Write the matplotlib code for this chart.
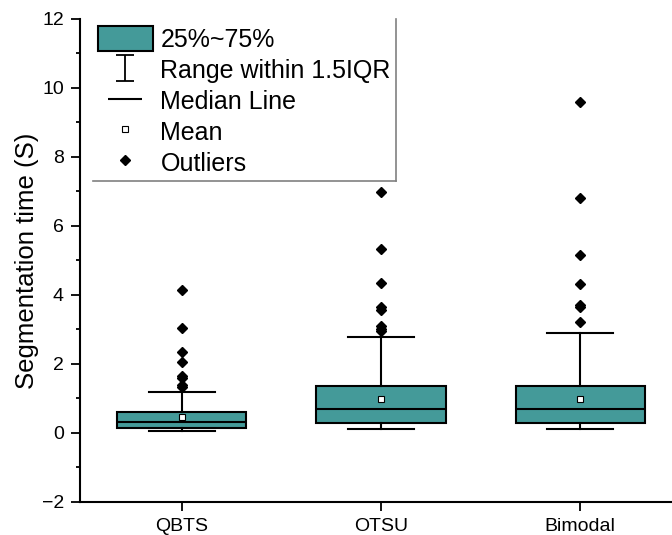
import numpy as np
import matplotlib
matplotlib.use('Agg')
import matplotlib.pyplot as plt
from matplotlib.lines import Line2D
from matplotlib.patches import Patch
from matplotlib.path import Path

plt.rcParams['font.family'] = ['Liberation Sans', 'DejaVu Sans']

# data
methods = ['QBTS', 'OTSU', 'Bimodal']
q1 = [0.14, 0.30, 0.30]
q3 = [0.62, 1.36, 1.36]
med = [0.32, 0.69, 0.69]
mean = [0.45, 0.99, 0.99]
whislo = [0.07, 0.12, 0.12]
whishi = [1.20, 2.79, 2.91]
outliers = [
    [4.14, 3.03, 2.36, 2.07, 1.65, 1.59, 1.39, 1.34],
    [6.99, 5.32, 4.34, 3.66, 3.56, 3.10, 3.00, 2.95],
    [9.60, 6.82, 5.17, 4.32, 3.70, 3.64, 3.23],
]

teal = '#449a99'

stats = []
for i, name in enumerate(methods):
    stats.append(dict(label=name, q1=q1[i], q3=q3[i], med=med[i], mean=mean[i],
                      whislo=whislo[i], whishi=whishi[i], fliers=outliers[i]))

fig = plt.figure(figsize=(6.72, 5.35), dpi=100)
ax = fig.add_axes([0.119, 0.0617, 0.881, 0.9028])

ax.bxp(stats, positions=[1, 2, 3], widths=0.65, capwidths=0.33,
       patch_artist=True, showmeans=True,
       boxprops=dict(facecolor=teal, edgecolor='black', linewidth=1.5),
       medianprops=dict(color='black', linewidth=1.5),
       whiskerprops=dict(color='black', linewidth=1.5),
       capprops=dict(color='black', linewidth=1.5),
       meanprops=dict(marker='s', markerfacecolor='white', markeredgecolor='black',
                      markersize=4.5, markeredgewidth=0.8),
       flierprops=dict(marker='D', markerfacecolor='black', markeredgecolor='black',
                       markersize=5))

ax.set_xlim(0.49, 3.46)
ax.set_ylim(-2, 12)
ax.set_yticks(np.arange(-2, 13, 2))
ax.set_yticks(np.arange(-1, 12, 2), minor=True)
ax.set_xticks([1, 2, 3])
ax.set_xticklabels(methods)
ax.tick_params(axis='both', which='major', labelsize=14, width=1.3, length=6.5, pad=5)
ax.tick_params(axis='y', which='minor', width=1.3, length=3)
ax.set_ylabel('Segmentation time (S)', fontsize=18.5, labelpad=2)
for s in ['top', 'right']:
    ax.spines[s].set_visible(False)
for s in ['left', 'bottom']:
    ax.spines[s].set_linewidth(1.5)

# legend handles
cap_path = Path([(-0.7, 1), (0.7, 1), (0, 1), (0, -1), (-0.7, -1), (0.7, -1)],
                [Path.MOVETO, Path.LINETO, Path.MOVETO, Path.LINETO, Path.MOVETO, Path.LINETO])
handles = [
    Patch(facecolor=teal, edgecolor='black', linewidth=1.5),
    Line2D([], [], linestyle='none', marker=cap_path, markersize=18.5,
           markeredgecolor='black', markeredgewidth=1.3),
    Line2D([], [], linestyle='none', marker='_', markersize=25,
           markeredgecolor='black', markeredgewidth=1.5),
    Line2D([], [], linestyle='none', marker='s', markerfacecolor='white',
           markeredgecolor='black', markersize=4.5, markeredgewidth=0.8),
    Line2D([], [], linestyle='none', marker='D', color='black', markersize=5),
]
labels = ['25%~75%', 'Range within 1.5IQR', 'Median Line', 'Mean', 'Outliers']
leg = ax.legend(handles, labels, loc='upper left', bbox_to_anchor=(0.022, 0.995),
                fontsize=18, frameon=True, fancybox=False, edgecolor='none',
                facecolor='white', framealpha=1, handlelength=2.2, handleheight=1.15,
                handletextpad=0.3, labelspacing=0.2, borderpad=0.2, borderaxespad=0)

# only the right and bottom sides of the legend frame are drawn
fig.canvas.draw()
bb = leg.get_frame().get_window_extent().transformed(fig.transFigure.inverted())
fig.add_artist(Line2D([bb.x1, bb.x1], [bb.y0, 1 - 19 / 535], color='gray',
                      linewidth=1.2, transform=fig.transFigure))
fig.add_artist(Line2D([bb.x0, bb.x1], [bb.y0, bb.y0], color='gray',
                      linewidth=1.2, transform=fig.transFigure))

fig.savefig('out.png', dpi=100)
